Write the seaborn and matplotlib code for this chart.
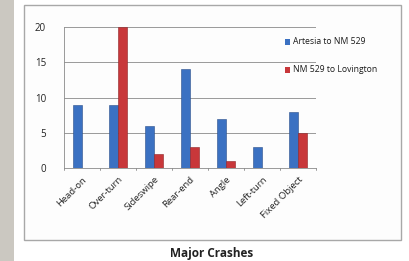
import matplotlib
matplotlib.use("Agg")
import matplotlib.pyplot as plt
import seaborn as sns
import pandas as pd
from matplotlib.patches import Rectangle

categories = ["Head-on", "Over-turn", "Sideswipe", "Rear-end", "Angle", "Left-turn", "Fixed Object"]
artesia = [9, 9, 6, 14, 7, 3, 8]
lovington = [0, 20, 2, 3, 1, 0, 5]
series_names = ["Artesia to NM 529", "NM 529 to Lovington"]
colors = ["#3b71c2", "#c8373a"]
yticks = [0, 5, 10, 15, 20]

df = pd.DataFrame({
    "Category": categories * 2,
    "Crashes": artesia + lovington,
    "Series": [series_names[0]] * len(categories) + [series_names[1]] * len(categories),
})

sns.set_theme(style="white")
plt.rcParams['font.family'] = ['Open Sans', 'DejaVu Sans']

W, H = 410, 261
fig = plt.figure(figsize=(W / 100, H / 100), dpi=100)
fig.patch.set_facecolor("white")

# grey side strip
fig.add_artist(Rectangle((0, 0), 14 / W, 1, transform=fig.transFigure,
                         facecolor="#cbc8c1", edgecolor="none", zorder=0))
# chart box
fig.add_artist(Rectangle((24 / W, (H - 240) / H), (401 - 24) / W, (240 - 5) / H,
                         transform=fig.transFigure, facecolor="#fdfdfd",
                         edgecolor="#a8a8a8", linewidth=1.0, zorder=0))

ax = fig.add_axes([64 / W, (H - 168) / H, (316 - 64) / W, (168 - 27) / H])
ax.set_facecolor("none")
sns.barplot(data=df, x="Category", y="Crashes", hue="Series", palette=colors,
            width=0.5, ax=ax, legend=False, edgecolor=None, linewidth=0,
            saturation=1)
for i, p in enumerate(ax.patches):
    p.set_edgecolor("#2a4f8a" if p.get_facecolor()[2] > 0.5 else "#8e2326")
    p.set_linewidth(0.4)

ax.set_xlim(-0.5, len(categories) - 0.5)
ax.set_ylim(0, 20)
ax.set_yticks(yticks)
ax.set_yticklabels([str(t) for t in yticks], fontsize=7, color="#222222")
ax.yaxis.grid(True, color="#8a8a8a", linewidth=0.6)
ax.set_axisbelow(True)
ax.set_xlabel("")
ax.set_ylabel("")
ax.set_xticks(range(len(categories)))
ax.set_xticklabels(categories, rotation=45, ha="right", rotation_mode="anchor",
                   fontsize=6.8, color="#222222")
ax.tick_params(axis="x", length=0, pad=5)
ax.tick_params(axis="y", length=0, pad=13)
for s in ["top", "right"]:
    ax.spines[s].set_visible(False)
ax.spines["left"].set_color("#8a8a8a")
ax.spines["left"].set_linewidth(0.6)
ax.spines["bottom"].set_color("#8a8a8a")
ax.spines["bottom"].set_linewidth(0.6)
# small ticks between categories
for xb in [i + 0.5 for i in range(-1, len(categories))]:
    ax.plot([xb, xb], [0, -0.35], color="#8a8a8a", lw=0.6, clip_on=False)

# legend
for k, (name, c) in enumerate(zip(series_names, colors)):
    y = (H - (42 + 28 * k)) / H
    fig.add_artist(Rectangle((285 / W, y - 2.5 / H), 5 / W, 5 / H,
                             transform=fig.transFigure, facecolor=c, edgecolor="none"))
    fig.text(293 / W, y, name, fontsize=6.2, va="center", ha="left", color="#1a1a1a")

fig.text(212 / W, (H - 253) / H, "Major Crashes", fontsize=8.5, fontweight="bold",
         ha="center", va="center", color="#222222")

fig.savefig("out.png", dpi=100)
